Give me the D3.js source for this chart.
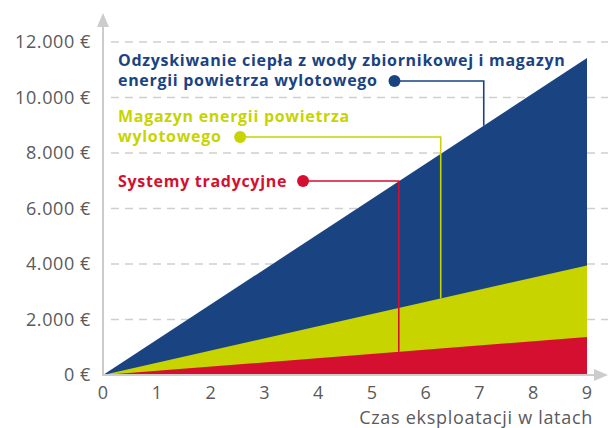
<!DOCTYPE html>
<html>
<head>
<meta charset="utf-8">
<script src="https://cdn.jsdelivr.net/npm/d3@7"></script>
<style>
  body { margin: 0; background: #fff; }
  svg { display: block; font-family: "Open Sans", sans-serif; }
</style>
</head>
<body>
<svg width="608" height="428"></svg>
<script>
// data
var years = [0, 9];
var tradycyjne = [0, 1370];
var magazyn = [0, 3950];
var odzysk = [0, 11420];
var yTicks = [0, 2000, 4000, 6000, 8000, 10000, 12000];
var xTicks = [0, 1, 2, 3, 4, 5, 6, 7, 8, 9];

var labels = [
  { lines: ["Odzyskiwanie ciepła z wody zbiornikowej i magazyn", "energii powietrza wylotowego"], color: "#1a4382", values: odzysk, at: 7.08, dotYear: 5.42, lineIdx: 1, dy: -5 },
  { lines: ["Magazyn energii powietrza", "wylotowego"], color: "#c8d400", values: magazyn, at: 6.28, dotYear: 2.55, lineIdx: 1, dy: -5 },
  { lines: ["Systemy tradycyjne"], color: "#d50f2f", values: tradycyjne, at: 5.50, dotYear: 3.72, lineIdx: 0, dy: -6 }
];
var labelTop = [66, 122, 187];

var svg = d3.select("svg");
var x = d3.scaleLinear().domain([0, 9]).range([103, 587]);
var y = d3.scaleLinear().domain([0, 12000]).range([375, 42]);

// grid
svg.append("g").selectAll("line")
  .data(yTicks.filter(function(d){ return d > 0; }))
  .enter().append("line")
  .attr("x1", 111).attr("x2", 608)
  .attr("y1", function(d){ return y(d); }).attr("y2", function(d){ return y(d); })
  .attr("stroke", "#cfcfcf").attr("stroke-width", 1.6)
  .attr("stroke-dasharray", "8,6");

// areas
var area = d3.area()
  .x(function(d){ return x(d[0]); })
  .y0(y(0))
  .y1(function(d){ return y(d[1]); });

[odzysk, magazyn, tradycyjne].forEach(function(vals, i){
  var col = ["#1a4382", "#c8d400", "#d50f2f"][i];
  svg.append("path")
    .datum(years.map(function(yr, k){ return [yr, vals[k]]; }))
    .attr("fill", col)
    .attr("d", area);
});

// axes
var axisCol = "#cccccc";
svg.append("line").attr("x1", x(0)).attr("x2", x(0)).attr("y1", y(0) + 1).attr("y2", 24)
  .attr("stroke", axisCol).attr("stroke-width", 2);
svg.append("path").attr("d", "M" + (x(0) - 6) + ",27 L" + x(0) + ",13 L" + (x(0) + 6) + ",27 Z").attr("fill", axisCol);
svg.append("line").attr("x1", x(0)).attr("x2", 596).attr("y1", y(0)).attr("y2", y(0))
  .attr("stroke", axisCol).attr("stroke-width", 2);
svg.append("path").attr("d", "M594," + (y(0) - 6) + " L608," + y(0) + " L594," + (y(0) + 6) + " Z").attr("fill", axisCol);

// y tick labels
svg.append("g").selectAll("text")
  .data(yTicks).enter().append("text")
  .attr("x", 91).attr("y", function(d){ return y(d) + 6; })
  .attr("text-anchor", "end")
  .attr("font-size", 18).attr("letter-spacing", 0.6).attr("fill", "#5a5a5a")
  .text(function(d){ return (d === 0 ? "0" : d3.format(",")(d).replace(/,/g, ".")) + " €"; });

// x tick labels
svg.append("g").selectAll("text")
  .data(xTicks).enter().append("text")
  .attr("x", function(d){ return x(d); }).attr("y", 399)
  .attr("text-anchor", "middle")
  .attr("font-size", 18).attr("fill", "#5a5a5a")
  .text(function(d){ return d; });

svg.append("text").attr("x", 593).attr("y", 424)
  .attr("text-anchor", "end").attr("font-size", 18).attr("letter-spacing", 0.7).attr("fill", "#5a5a5a")
  .text("Czas eksploatacji w latach");

// callouts
labels.forEach(function(l, i){
  var g = svg.append("g");
  l.lines.forEach(function(t, k){
    g.append("text").attr("x", 118).attr("y", labelTop[i] + k * 20)
      .attr("font-size", 16).attr("letter-spacing", 0.7).attr("font-weight", 700).attr("fill", l.color)
      .text(t);
  });
  var dotY = labelTop[i] + l.lineIdx * 20 + l.dy;
  var dotX = x(l.dotYear);
  var endV = d3.interpolateNumber(l.values[0], l.values[1])(l.at / 9);
  g.append("path")
    .attr("d", "M" + dotX + "," + dotY + " H" + x(l.at) + " V" + y(endV))
    .attr("fill", "none").attr("stroke", l.color).attr("stroke-width", 1.6);
  g.append("circle").attr("cx", dotX).attr("cy", dotY).attr("r", 6).attr("fill", l.color);
});
</script>
</body>
</html>
